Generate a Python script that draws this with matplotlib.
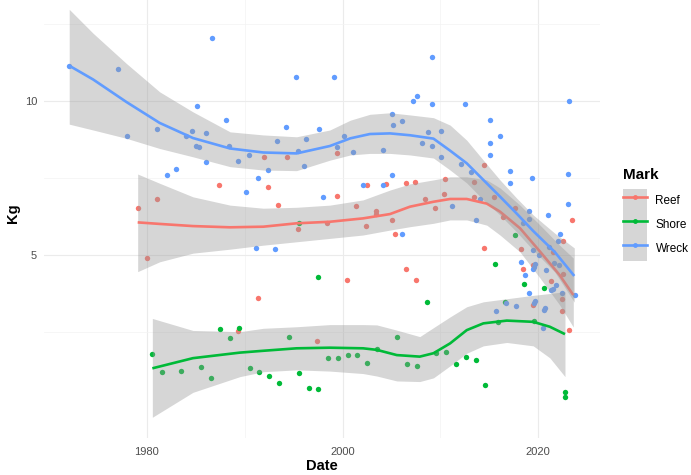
import numpy as np
import matplotlib
matplotlib.use("Agg")
import matplotlib.pyplot as plt
from matplotlib.patches import Patch
from matplotlib.lines import Line2D

plt.rcParams['font.family'] = ['Liberation Sans', 'DejaVu Sans']

# catches per mark: (date as decimal year, kg)
reef_pts = [
    (1987.4, 7.28), (1981.0, 6.82), (1979.05, 6.52), (1980.0, 4.91), (1992.0, 8.18),
    (1994.35, 8.18), (1999.4, 8.30), (1992.4, 7.20), (1993.4, 6.62), (1999.4, 6.91),
    (2002.5, 7.28), (2004.45, 7.31), (2006.5, 7.33), (2001.4, 6.59), (2003.4, 6.43),
    (2003.45, 6.34), (2005.1, 6.14), (2002.4, 5.94), (1998.45, 6.03), (1995.4, 5.83),
    (2005.4, 5.68), (1991.4, 3.61), (2000.5, 4.19), (2006.5, 4.54), (1997.4, 2.21),
    (1989.3, 2.53), (2007.5, 4.19), (2014.45, 5.23), (2018.5, 4.54), (2018.3, 5.20),
    (2019.45, 4.68), (2021.35, 4.15), (2022.4, 3.57), (2022.4, 3.19), (2019.5, 3.37),
    (2023.2, 2.55), (2022.5, 5.46), (2021.5, 5.11), (2022.5, 4.37), (2014.45, 7.93),
    (2007.4, 7.36), (2010.5, 7.48), (2010.4, 6.99), (2008.45, 6.82), (2009.45, 6.52),
    (2013.45, 7.38), (2013.4, 6.88), (2015.5, 6.89), (2017.6, 6.52), (2023.5, 6.14),
    (2016.45, 6.24),
]
shore_pts = [
    (1980.55, 1.78), (1981.5, 1.19), (1983.5, 1.24), (1985.5, 1.36), (1986.55, 1.00),
    (1987.5, 2.59), (1988.5, 2.30), (1989.4, 2.64), (1990.5, 1.34), (1991.5, 1.21),
    (1992.5, 1.08), (1993.5, 0.85), (1994.55, 2.33), (1995.55, 1.17), (1996.6, 0.69),
    (1997.5, 0.65), (1997.5, 4.30), (1998.55, 1.65), (1999.55, 1.65), (2000.55, 1.76),
    (2001.5, 1.76), (2002.55, 1.50), (2003.55, 1.96), (2005.6, 2.33), (2006.55, 1.46),
    (1995.5, 6.05), (2007.6, 1.38), (2008.6, 3.46), (2009.55, 1.83), (2010.55, 1.86),
    (2011.6, 1.46), (2012.6, 1.69), (2013.6, 1.59), (2014.6, 0.79), (2015.6, 4.71),
    (2015.9, 2.83), (2016.6, 3.46), (2017.6, 5.65), (2018.6, 4.06), (2019.6, 2.87),
    (2020.6, 3.92), (2022.8, 0.55), (2022.8, 0.39),
]
wreck_pts = [
    (1972.05, 11.15), (1977.0, 11.03), (1986.6, 12.06), (1978.0, 8.87), (1981.05, 9.10),
    (1985.1, 9.83), (1988.05, 9.38), (1984.6, 9.04), (1984.0, 8.87), (1986.0, 8.97),
    (1985.0, 8.54), (1985.3, 8.52), (1988.4, 8.55), (1989.3, 8.06), (1986.0, 8.01),
    (1983.0, 7.81), (1982.0, 7.59), (1995.2, 10.77), (1999.1, 10.77), (1994.2, 9.15),
    (1997.6, 9.09), (1993.3, 8.70), (1996.3, 8.76), (1995.4, 8.38), (1990.4, 8.24),
    (1992.4, 7.76), (1996.1, 7.89), (1991.4, 7.51), (1990.1, 7.05), (2000.15, 8.87),
    (1999.4, 8.50), (2001.1, 8.35), (2004.1, 8.41), (2005.1, 9.57), (2005.2, 9.23),
    (2006.1, 9.35), (2005.1, 7.59), (2002.1, 7.28), (2004.1, 7.28), (1998.0, 6.87),
    (1991.1, 5.24), (1993.1, 5.19),
    (2009.1, 11.42), (2007.6, 10.17), (2007.2, 10.00), (2009.1, 9.90), (2012.5, 9.90),
    (2023.2, 10.00), (2015.1, 9.39), (2016.1, 8.86), (2015.1, 8.64), (2015.1, 8.24),
    (2008.7, 9.00), (2010.1, 9.04), (2008.1, 8.64), (2009.1, 8.54), (2010.1, 8.19),
    (2012.1, 7.95), (2013.1, 7.71), (2017.1, 7.73), (2017.1, 7.35), (2019.4, 7.50),
    (2023.1, 7.62), (2023.1, 6.65), (2011.2, 6.59), (2014.1, 6.82), (2013.7, 6.14),
    (2019.1, 6.42), (2019.1, 6.17), (2021.0, 6.29), (2018.5, 6.05), (2006.05, 5.68),
    (2022.2, 5.68), (2022.05, 5.46), (2018.2, 4.77), (2018.7, 4.36), (2019.1, 3.76),
    (2019.7, 4.72), (2019.6, 4.61), (2019.5, 4.56), (2020.8, 4.52), (2021.1, 5.25),
    (2020.1, 5.01), (2019.5, 5.16), (2021.6, 4.75), (2021.8, 4.02), (2021.5, 3.91),
    (2021.3, 3.85), (2022.15, 4.68), (2022.45, 3.76), (2023.75, 3.69), (2019.7, 3.51),
    (2019.55, 3.45), (2020.7, 3.29), (2020.6, 3.20), (2020.5, 2.64), (2015.7, 3.19),
    (2016.7, 3.43), (2017.75, 3.34),
]

# loess fits with confidence band
reef_fit_x = [1979.05, 1981.3, 1984.7, 1988.5, 1991.9, 1995.3, 1998.7, 2002.1, 2004.85, 2006.9,
              2009.3, 2011.0, 2012.7, 2014.75, 2016.1, 2018.15, 2020.2, 2022.2, 2023.6]
reef_fit = [6.06, 6.01, 5.94, 5.90, 5.92, 6.03, 6.08, 6.19, 6.33, 6.57,
            6.73, 6.82, 6.82, 6.67, 6.41, 5.87, 5.11, 4.35, 3.70]
reef_hi = [7.63, 7.33, 6.89, 6.62, 6.52, 6.55, 6.62, 6.79, 7.11, 7.31,
           7.44, 7.54, 7.54, 7.44, 7.18, 6.62, 5.97, 5.32, 4.90]
reef_lo = [4.46, 4.78, 5.06, 5.19, 5.32, 5.43, 5.54, 5.65, 5.81, 5.92,
           6.03, 6.14, 6.14, 5.97, 5.65, 5.10, 4.25, 3.38, 2.66]

shore_fit_x = [1980.55, 1984.7, 1989.5, 1991.9, 1995.3, 1998.7, 2002.1, 2003.5, 2005.55,
               2007.9, 2009.3, 2011.0, 2012.7, 2014.4, 2016.8, 2019.5, 2021.2, 2022.75]
shore_fit = [1.32, 1.65, 1.83, 1.89, 1.97, 1.99, 1.97, 1.92, 1.75,
             1.70, 1.81, 2.13, 2.56, 2.78, 2.87, 2.83, 2.67, 2.43]
shore_hi = [2.94, 2.55, 2.51, 2.62, 2.67, 2.74, 2.74, 2.73, 2.56,
            2.35, 2.64, 2.99, 3.32, 3.48, 3.58, 3.69, 3.75, 3.81]
shore_lo = [-0.27, 0.54, 1.05, 1.21, 1.27, 1.23, 1.15, 1.07, 0.91,
            0.89, 1.01, 1.40, 1.81, 2.05, 2.16, 2.05, 1.66, 1.05]

wreck_fit_x = [1972.05, 1974.5, 1977.9, 1981.3, 1984.7, 1988.5, 1991.9, 1995.3, 1998.7, 2000.8,
               2002.8, 2004.85, 2006.9, 2009.3, 2011.0, 2012.7, 2014.4, 2016.1, 2017.8, 2019.5,
               2021.7, 2023.7]
wreck_fit = [11.15, 10.70, 9.97, 9.29, 8.80, 8.46, 8.33, 8.30, 8.54, 8.79,
             8.93, 8.95, 8.89, 8.78, 8.39, 7.98, 7.44, 6.90, 6.35, 5.78,
             5.10, 4.32]
wreck_hi = [12.98, 12.20, 11.22, 10.30, 9.65, 9.00, 8.90, 8.84, 9.06, 9.38,
            9.57, 9.62, 9.55, 9.46, 9.22, 8.73, 8.08, 7.44, 6.85, 6.30,
            5.71, 5.23]
wreck_lo = [9.25, 9.06, 8.79, 8.46, 8.19, 7.87, 7.76, 7.74, 8.08, 8.25,
            8.30, 8.30, 8.25, 8.15, 7.76, 7.34, 6.79, 6.30, 5.75, 5.16,
            4.45, 3.47]

marks = ["Reef", "Shore", "Wreck"]
colors = {"Reef": "#F8766D", "Shore": "#00BA38", "Wreck": "#619CFF"}
points = {"Reef": reef_pts, "Shore": shore_pts, "Wreck": wreck_pts}
fits = {
    "Reef": (reef_fit_x, reef_fit, reef_lo, reef_hi),
    "Shore": (shore_fit_x, shore_fit, shore_lo, shore_hi),
    "Wreck": (wreck_fit_x, wreck_fit, wreck_lo, wreck_hi),
}

fig = plt.figure(figsize=(6.91, 4.75), dpi=100)
ax = fig.add_axes([44 / 691, 37.4 / 475, 556 / 691, 448.6 / 475])

for m in marks:
    p = np.array(points[m])
    ax.scatter(p[:, 0], p[:, 1], s=15, color=colors[m], linewidths=0, zorder=2)

# each group: band first, then its line
z = 3
for m in marks:
    fx, fy, lo, hi = fits[m]
    ax.fill_between(fx, lo, hi, color="#999999", alpha=0.4, linewidth=0, zorder=z)
    ax.plot(fx, fy, color=colors[m], lw=1.9, solid_capstyle="butt", zorder=z + 1)
    z += 2

ax.set_xlim(1969.47, 2026.33)
ax.set_ylim(-0.93, 13.64)
ax.set_xticks([1980, 2000, 2020])
ax.set_xticks([1990, 2010], minor=True)
ax.set_yticks([5, 10])
ax.set_yticks([2.5, 7.5, 12.5], minor=True)
ax.grid(True, which="major", color="#ebebeb", lw=0.8, zorder=0)
ax.grid(True, which="minor", color="#f3f3f3", lw=0.5, zorder=0)
ax.set_axisbelow(True)
for s in ax.spines.values():
    s.set_visible(False)
ax.tick_params(which="both", length=0)
ax.tick_params(axis="x", pad=7, labelsize=8, labelcolor="#4d4d4d")
ax.tick_params(axis="y", pad=5, labelsize=8, labelcolor="#4d4d4d")
ax.set_xlabel("Date", fontsize=10.5, fontweight="bold", labelpad=1)
ax.set_ylabel("Kg", fontsize=10.5, fontweight="bold")
ax.yaxis.set_label_coords(-24 / 556, 0.5)

handles = [(Patch(facecolor="#d6d6d6", edgecolor="none"),
            Line2D([], [], color=colors[m], lw=1.9, marker="o", markersize=3.5,
                   markeredgewidth=0)) for m in marks]
leg = ax.legend(handles, marks, title="Mark", loc="upper left",
                bbox_to_anchor=(623 / 691, 1 - 168 / 475), bbox_transform=fig.transFigure,
                frameon=False, fontsize=8.5, handlelength=2.05, handleheight=2.75,
                labelspacing=0, handletextpad=0.7, borderpad=0, borderaxespad=0,
                alignment="left", title_fontproperties={"size": 11, "weight": "bold"})
leg._legend_box.sep = 5

fig.savefig("out.png", dpi=100)
